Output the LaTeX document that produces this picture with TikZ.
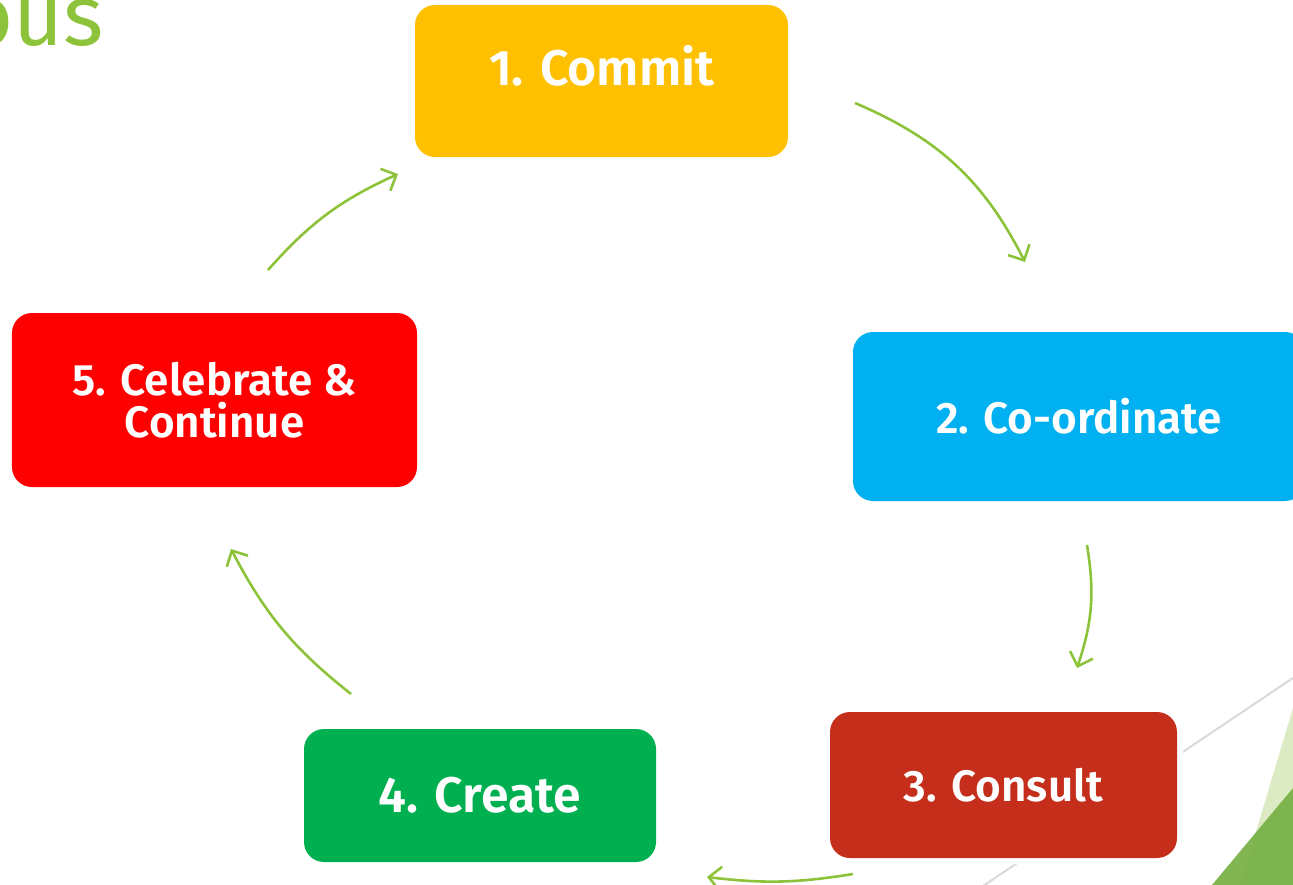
\documentclass[tikz,border=0pt]{standalone}
\usepackage{fontspec}
\setmainfont{Fira Sans}
\IfFontExistsTF{Fira Sans SemiBold}
  {\newfontfamily\boxfont{Fira Sans SemiBold}\newcommand\boxweight{}}
  {\newfontfamily\boxfont{Fira Sans}\newcommand\boxweight{\bfseries}}
\usetikzlibrary{arrows.meta}
\definecolor{cgreen}{HTML}{8DC33A}
\definecolor{cyellow}{HTML}{FFC000}
\definecolor{cblue}{HTML}{00B0F0}
\definecolor{cbrick}{HTML}{C42E1A}
\definecolor{cgreenbox}{HTML}{00B050}
\definecolor{cred}{HTML}{FF0000}
\definecolor{cgray}{HTML}{D9D9D9}
\definecolor{clight}{HTML}{DDEBC4}
\definecolor{cdark}{HTML}{76B043}
\begin{document}
\begin{tikzpicture}[x=1bp,y=-1bp,
  box/.style={rounded corners=20bp, inner sep=0pt, text=white, align=center,
    font=\boxfont\boxweight\fontsize{50bp}{52bp}\selectfont},
  flow/.style={draw=cgreen, line width=2.6bp, -{Straight Barb[length=12bp,width=24bp,line width=2.6bp]}}]
\useasboundingbox (0,0) rectangle (1293,885);
% background decoration
\draw[cgray, line width=2bp] (983,886) -- (1293,678);
\fill[clight] (1293,708) -- (1240,885) -- (1293,885) -- cycle;
\fill[cdark, opacity=0.92] (1212,885) -- (1293,788) -- (1293,885) -- cycle;
% title fragment
\node[anchor=base east, inner sep=0pt, text=cgreen, font=\fontsize{86bp}{90bp}\selectfont] (title) at (104,45) {ous};
% boxes
\node[box, fill=cyellow, minimum width=373bp, minimum height=152bp] (b1) at (601.5,81) {};
\node[box, anchor=center] (t1) at (602,66) {1. Commit};
\node[box, fill=cblue, minimum width=452bp, minimum height=169bp,
  font=\boxfont\boxweight\fontsize{44bp}{46bp}\selectfont] (b2) at (1079,416.5) {2. Co-ordinate};
\node[box, fill=cbrick, minimum width=347bp, minimum height=146bp,
  font=\boxfont\boxweight\fontsize{44bp}{46bp}\selectfont,
  preaction={draw=white, line width=12bp}] (b3) at (1003.5,785) {3. Consult};
\node[box, fill=cgreenbox, minimum width=352bp, minimum height=133bp] (b4) at (480,795.5) {4. Create};
\node[box, fill=cred, minimum width=405bp, minimum height=174bp,
  font=\boxfont\boxweight\fontsize{44bp}{42bp}\selectfont] (b5) at (214.5,400) {5. Celebrate \&\\Continue};
% arrow ends
\coordinate (a1s) at (855,103);  \coordinate (a1e) at (1025,262);
\coordinate (a2s) at (1087,545); \coordinate (a2e) at (1077,668);
\coordinate (a3s) at (853,874);  \coordinate (a3e) at (707,877);
\coordinate (a4s) at (351,694);  \coordinate (a4e) at (231,549);
\coordinate (a5s) at (268,270);  \coordinate (a5e) at (398,174);
\draw[flow] (a1s) to[bend left=20] (a1e);
\draw[flow] (a2s) to[bend left=14] (a2e);
\draw[flow] (a3s) to[bend left=8] (a3e);
\draw[flow] (a4s) to[bend left=12] (a4e);
\draw[flow] (a5s) to[bend left=12] (a5e);
\end{tikzpicture}
\end{document}
